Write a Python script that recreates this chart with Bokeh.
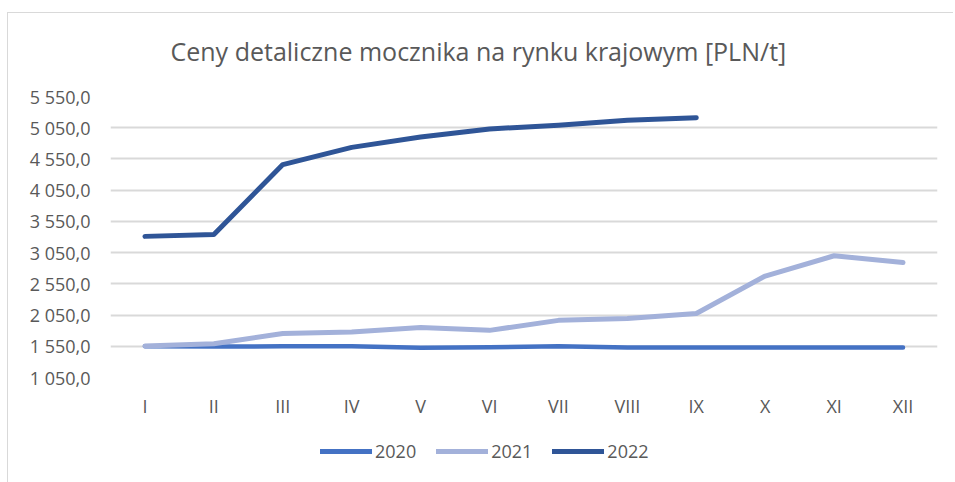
from bokeh.plotting import figure
from bokeh.layouts import column
from bokeh.models import FixedTicker, Range1d, Legend, LegendItem, FactorRange, InlineStyleSheet
from bokeh.embed import file_html
from bokeh.resources import INLINE

months = ["I", "II", "III", "IV", "V", "VI", "VII", "VIII", "IX", "X", "XI", "XII"]
y2020 = [1550, 1545, 1550, 1550, 1525, 1535, 1550, 1530, 1530, 1530, 1530, 1530]
y2021 = [1555, 1590, 1755, 1780, 1850, 1805, 1965, 1995, 2075, 2675, 3000, 2890]
months2022 = ["I", "II", "III", "IV", "V", "VI", "VII", "VIII", "IX"]
y2022 = [3310, 3340, 4460, 4735, 4900, 5030, 5090, 5170, 5210]
y_ticks = [1050, 1550, 2050, 2550, 3050, 3550, 4050, 4550, 5050, 5550]
y_tick_labels = ["1 050,0", "1 550,0", "2 050,0", "2 550,0", "3 050,0",
                 "3 550,0", "4 050,0", "4 550,0", "5 050,0", "5 550,0"]
series_names = ["2020", "2021", "2022"]
colors = ["#4472C4", "#A3B1DA", "#2F5597"]

FONT = "Open Sans"
GREY = "#595959"

p = figure(x_range=FactorRange(*months), y_range=Range1d(1050, 5550),
           frame_width=827, frame_height=281,
           min_border_left=110, min_border_right=16, min_border_top=96, min_border_bottom=45,
           output_backend="svg", toolbar_location=None,
           title="Ceny detaliczne mocznika na rynku krajowym [PLN/t]")

p.title.text_font = FONT
p.title.text_font_size = "25px"
p.title.text_font_style = "normal"
p.title.text_color = GREY
p.title.align = "left"
p.title.offset = 60
p.title.standoff = 58

p.outline_line_color = None
p.xgrid.grid_line_color = None
p.ygrid.grid_line_color = "#D9D9D9"
p.ygrid.grid_line_width = 2

p.yaxis.ticker = FixedTicker(ticks=y_ticks)
p.yaxis.major_label_overrides = {t: l for t, l in zip(y_ticks, y_tick_labels)}
for ax in (p.xaxis[0], p.yaxis[0]):
    ax.axis_line_color = None
    ax.major_tick_line_color = None
    ax.minor_tick_line_color = None
    ax.major_tick_out = 0
    ax.major_tick_in = 0
    ax.major_label_text_font = FONT
    ax.major_label_text_font_size = "18px"
    ax.major_label_text_color = GREY
p.yaxis.major_label_standoff = 20
p.xaxis.major_label_standoff = 16

p.line(months, y2020, line_color=colors[0], line_width=4.5, line_join="round", line_cap="round")
p.line(months, y2021, line_color=colors[1], line_width=5, line_join="round", line_cap="round")
p.line(months2022, y2022, line_color=colors[2], line_width=5, line_join="round", line_cap="round")

# legend strip below the chart (proxy renderers kept outside the visible range)
lg = figure(width=953, height=60, x_range=Range1d(0, 1), y_range=Range1d(0, 1),
            min_border=0, output_backend="svg", toolbar_location=None,
            x_axis_location=None, y_axis_location=None)
lg.outline_line_color = None
lg.grid.visible = False
lrs = [lg.line(x=[-2, -1], y=[-2, -1], line_color=c, line_width=5, line_cap="round") for c in colors]
legend = Legend(items=[LegendItem(label=n, renderers=[r]) for n, r in zip(series_names, lrs)],
                orientation="horizontal", location=(210, 19))
legend.border_line_color = None
legend.background_fill_alpha = 0
legend.glyph_width = 52
legend.glyph_height = 16
legend.label_standoff = 3
legend.spacing = 20
legend.padding = 0
legend.margin = 0
legend.label_text_font = FONT
legend.label_text_font_size = "18px"
legend.label_text_color = GREY
lg.add_layout(legend, "center")

layout = column(p, lg, spacing=0)
layout.stylesheets = [InlineStyleSheet(css=(
    ":host { position: relative; }"
    ":host::after { content: ''; position: absolute; left: 7px; top: 12px; right: 0px; bottom: 0px;"
    " border-top: 1px solid #D9D9D9; border-left: 1px solid #D9D9D9; pointer-events: none; }"
))]

open("out.html", "w").write(file_html(layout, INLINE))
